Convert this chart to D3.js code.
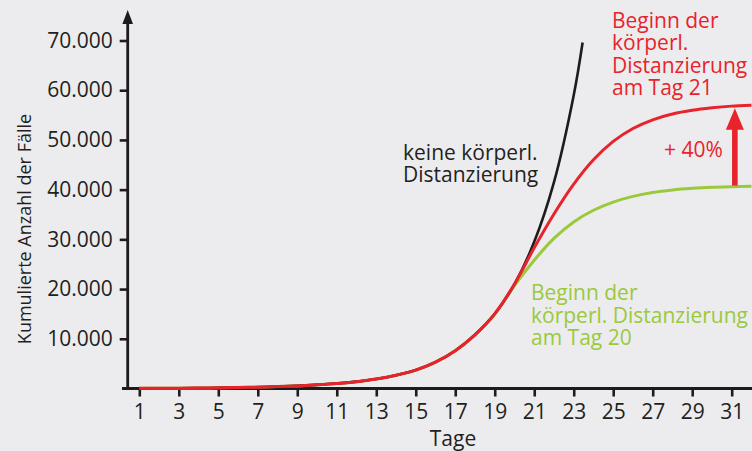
<!DOCTYPE html>
<html><head><meta charset="utf-8">
<script src="https://cdn.jsdelivr.net/npm/d3@7"></script>
<style>html,body{margin:0;padding:0;background:#ececee;}svg{display:block;font-family:"Open Sans",sans-serif;}</style>
</head><body>
<svg id="c" width="752" height="451"></svg>
<script>
// ---- data ----
const xTicks = [1,3,5,7,9,11,13,15,17,19,21,23,25,27,29,31];
const yTicks = [10000,20000,30000,40000,50000,60000,70000];
const yTickLabels = ["10.000","20.000","30.000","40.000","50.000","60.000","70.000"];
const daysNoDist = [1,2,3,4,5,6,7,8,9,10,11,12,13,14,15,16,17,18,19,20,21,22,23,23.45];
const noDist = [30,45,65,95,135,190,270,380,520,730,1000,1380,1900,2650,3700,5300,7600,10800,15000,21000,29500,41500,59000,69600];
const daysDist = [1,2,3,4,5,6,7,8,9,10,11,12,13,14,15,16,17,18,19,20,21,22,23,24,25,26,27,28,29,30,31,32];
const distDay21 = [30,45,65,95,135,190,270,380,520,730,1000,1380,1900,2650,3700,5300,7600,10800,15000,21000,28300,35100,41100,46000,49700,52300,54050,55200,55950,56450,56800,57000];
const distDay20 = [30,45,65,95,135,190,270,380,520,730,1000,1380,1900,2650,3700,5300,7600,10800,15000,20700,25800,30200,33500,35850,37500,38650,39430,39930,40260,40480,40600,40680];
const arrowDay = 31.16;
const labelNoDist = ["keine körperl.","Distanzierung"];
const labelDay21 = ["Beginn der","körperl.","Distanzierung","am Tag 21"];
const labelDay20 = ["Beginn der","körperl. Distanzierung","am Tag 20"];
const increaseLabel = "+ 40%";
const xTitle = "Tage";
const yTitle = "Kumulierte Anzahl der Fälle";

// ---- chart ----
const RED="#e8232b", GREEN="#9ac93b", BLACK="#1d1b1c";
const svg = d3.select("#c");
svg.append("rect").attr("width",752).attr("height",451).attr("fill","#ececee");
const x = d3.scaleLinear().domain([1,31]).range([139.3,731.7]);
const y = d3.scaleLinear().domain([0,70000]).range([388.5,40.5]);
const fs = 21;

// y axis
const yAxisG = svg.append("g").attr("transform","translate(127.7,0)")
  .call(d3.axisLeft(y).tickValues(yTicks).tickFormat((d,i)=>yTickLabels[i]).tickSize(8).tickPadding(7));
yAxisG.select(".domain").remove();
yAxisG.selectAll("line").attr("stroke",BLACK).attr("stroke-width",2.6);
yAxisG.selectAll("text").attr("font-size",fs).attr("font-family","Open Sans").attr("fill","#231f20");
svg.append("line").attr("x1",127.7).attr("x2",127.7).attr("y1",y(0)+1.5).attr("y2",22)
  .attr("stroke",BLACK).attr("stroke-width",2.8);
svg.append("path").attr("d","M127.7,10 L133,24 L122.4,24 Z").attr("fill",BLACK);

// x axis
const xAxisG = svg.append("g").attr("transform",`translate(0,${y(0)})`)
  .call(d3.axisBottom(x).tickValues(xTicks).tickSize(8).tickPadding(8));
xAxisG.select(".domain").remove();
xAxisG.selectAll("line").attr("stroke",BLACK).attr("stroke-width",2.6);
xAxisG.selectAll("text").attr("font-size",fs).attr("font-family","Open Sans").attr("fill","#231f20");
svg.append("line").attr("x1",122).attr("x2",752).attr("y1",y(0)).attr("y2",y(0))
  .attr("stroke",BLACK).attr("stroke-width",3);

svg.append("text").attr("x",453).attr("y",446).attr("text-anchor","middle")
  .attr("font-size",fs).attr("fill","#231f20").text(xTitle);
svg.append("text").attr("transform","translate(31,229) rotate(-90)").attr("text-anchor","middle")
  .attr("font-size",18).attr("fill","#231f20").text(yTitle);

// lines
const line = d3.line().x(d=>x(d[0])).y(d=>y(d[1])).curve(d3.curveCatmullRom.alpha(0.5));
const zip = (a,b)=>a.map((d,i)=>[d,b[i]]);
svg.append("path").attr("d",line(zip(daysDist,distDay20))).attr("fill","none").attr("stroke",GREEN).attr("stroke-width",3);
svg.append("path").attr("d",line(zip(daysNoDist,noDist))).attr("fill","none").attr("stroke",BLACK).attr("stroke-width",2.6);
svg.append("path").attr("d",line(zip(daysDist,distDay21))).attr("fill","none").attr("stroke",RED).attr("stroke-width",3);

// arrow
const interp = (days,vals,d)=>{ for(let i=1;i<days.length;i++){ if(d<=days[i]){const t=(d-days[i-1])/(days[i]-days[i-1]);return vals[i-1]+t*(vals[i]-vals[i-1]);} } return vals[vals.length-1]; };
const ax = x(arrowDay), yTop = y(interp(daysDist,distDay21,arrowDay))+2.2, yBot = y(interp(daysDist,distDay20,arrowDay))-1;
svg.append("rect").attr("x",ax-2.8).attr("y",yTop+18).attr("width",5.6).attr("height",yBot-yTop-18).attr("fill",RED);
svg.append("path").attr("d",`M${ax},${yTop} L${ax+9},${yTop+21.5} L${ax-9},${yTop+21.5} Z`).attr("fill",RED);
svg.append("text").attr("x",664).attr("y",157).attr("font-size",fs).attr("fill",RED).text(increaseLabel);

// labels
function block(lines,x0,y0,dy,color){
  const t = svg.append("text").attr("font-size",fs).attr("fill",color);
  lines.forEach((s,i)=>t.append("tspan").attr("x",x0).attr("y",y0+i*dy).text(s));
}
block(labelNoDist,403,160,21.5,"#231f20");
block(labelDay21,612,27.5,22.5,RED);
block(labelDay20,531,300,22.5,GREEN);
</script>
</body></html>
